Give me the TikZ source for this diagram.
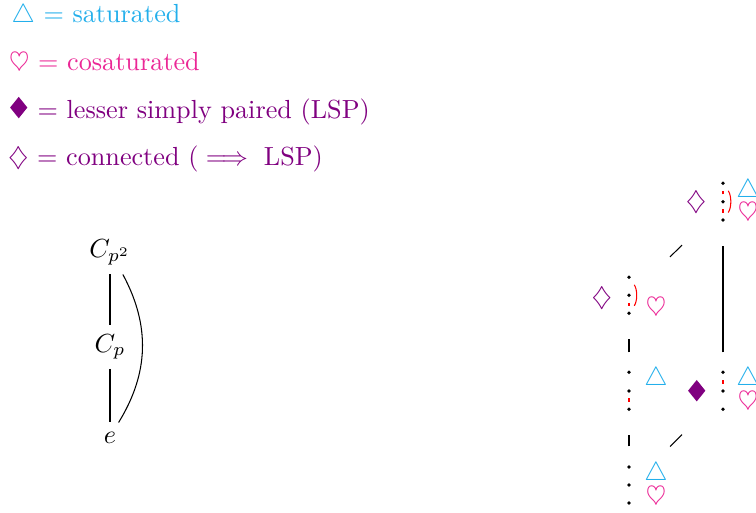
\documentclass[tikz,border=0pt]{standalone}
\usepackage{amsmath,amssymb}
\definecolor{satc}{RGB}{35,175,235}
\definecolor{cosc}{RGB}{235,40,150}
\definecolor{lspc}{RGB}{128,0,128}
\newcommand{\fdiam}{\tikz[baseline=0pt]{\path (0pt,0pt) (7.78pt,0pt);\fill[lspc] (0.6pt,4pt)--(3.9pt,-0.1pt)--(7.2pt,4pt)--(3.9pt,8.1pt)--cycle;}}
\begin{document}
\begin{tikzpicture}[x=0.382pt,y=-0.382pt,
  lab/.style={inner sep=0pt, anchor=base west},
  grp/.style={draw=none, minimum size=30.94pt, inner sep=0pt},
  pt/.style={circle, fill=black, inner sep=0pt, minimum size=1.4pt},
  sym/.style={inner sep=0pt},
  tr/.style={red, dash pattern=on 2.4pt off 1pt, shorten >=1.9pt, shorten <=1.9pt},
  arcr/.style={red, shorten >=2.6pt, shorten <=2.6pt}]
\useasboundingbox (0,0) rectangle (756,512);
% legend
\node[lab, text=satc] (l1) at (11,22) {$\triangle$ = saturated};
\node[lab, text=cosc] (l2) at (8.5,70) {$\heartsuit$ = cosaturated};
\node[lab, text=lspc] (l3) at (8,118) {\fdiam{} = lesser simply paired (LSP)};
\node[lab, text=lspc] (l4) at (7.5,165) {$\diamondsuit$ = connected ($\implies$ LSP)};
% subgroup lattice
\node[anchor=base] (cp2) at (110,257) {$C_{p^2}$};
\node[anchor=base] (cp) at (110,352) {$C_p$};
\node[anchor=base] (ee) at (110,443) {$e$};
\draw (cp2) -- (cp);
\draw (cp) -- (ee);
\draw (cp2) to[bend left=30] (ee);
% transfer system groups
\node[grp] (T) at (723,204.5) {};
\node[grp] (ML) at (629,297.5) {};
\node[grp] (L) at (629,393.5) {};
\node[grp] (R) at (723,393.5) {};
\node[grp] (B) at (629,487.5) {};
\draw (B) -- (L);
\draw (L) -- (ML);
\draw (B) -- (R);
\draw (ML) -- (T);
\draw (R) -- (T);
% dots
\node[pt] (T1) at (723,220) {};
\node[pt] (T2) at (723,201.7) {};
\node[pt] (T3) at (723,183.3) {};
\node[pt] (ML1) at (629,313.3) {};
\node[pt] (ML2) at (629,295.3) {};
\node[pt] (ML3) at (629,277.3) {};
\node[pt] (L1) at (629,409.3) {};
\node[pt] (L2) at (629,391) {};
\node[pt] (L3) at (629,372.3) {};
\node[pt] (R1) at (723,409.3) {};
\node[pt] (R2) at (723,391) {};
\node[pt] (R3) at (723,372.3) {};
\node[pt] (B1) at (629,503) {};
\node[pt] (B2) at (629,485) {};
\node[pt] (B3) at (629,467) {};
% transfers
\draw[tr] (T1) -- (T2);
\draw[tr] (T2) -- (T3);
\draw[arcr] (T3) to[bend left=35] (T1);
\draw[tr] (ML1) -- (ML2);
\draw[arcr] (ML3) to[bend left=35] (ML1);
\draw[tr] (L1) -- (L2);
\draw[tr] (R2) -- (R3);
% symbols
\node[sym, text=lspc] (Td) at (696,202) {$\diamondsuit$};
\node[sym, text=satc] (Ts) at (748,190.7) {$\triangle$};
\node[sym, text=cosc] (Tc) at (748,213.3) {$\heartsuit$};
\node[sym, text=lspc] (MLd) at (601.7,297.7) {$\diamondsuit$};
\node[sym, text=cosc] (MLc) at (656,308.3) {$\heartsuit$};
\node[sym, text=satc] (Ls) at (656,379.3) {$\triangle$};
\node[sym] (Rd) at (696.7,390.7) {\fdiam};
\node[sym, text=satc] (Rs) at (748,379.3) {$\triangle$};
\node[sym, text=cosc] (Rc) at (748,402.5) {$\heartsuit$};
\node[sym, text=satc] (Bs) at (656,474.3) {$\triangle$};
\node[sym, text=cosc] (Bc) at (656,497.5) {$\heartsuit$};
\end{tikzpicture}
\end{document}
